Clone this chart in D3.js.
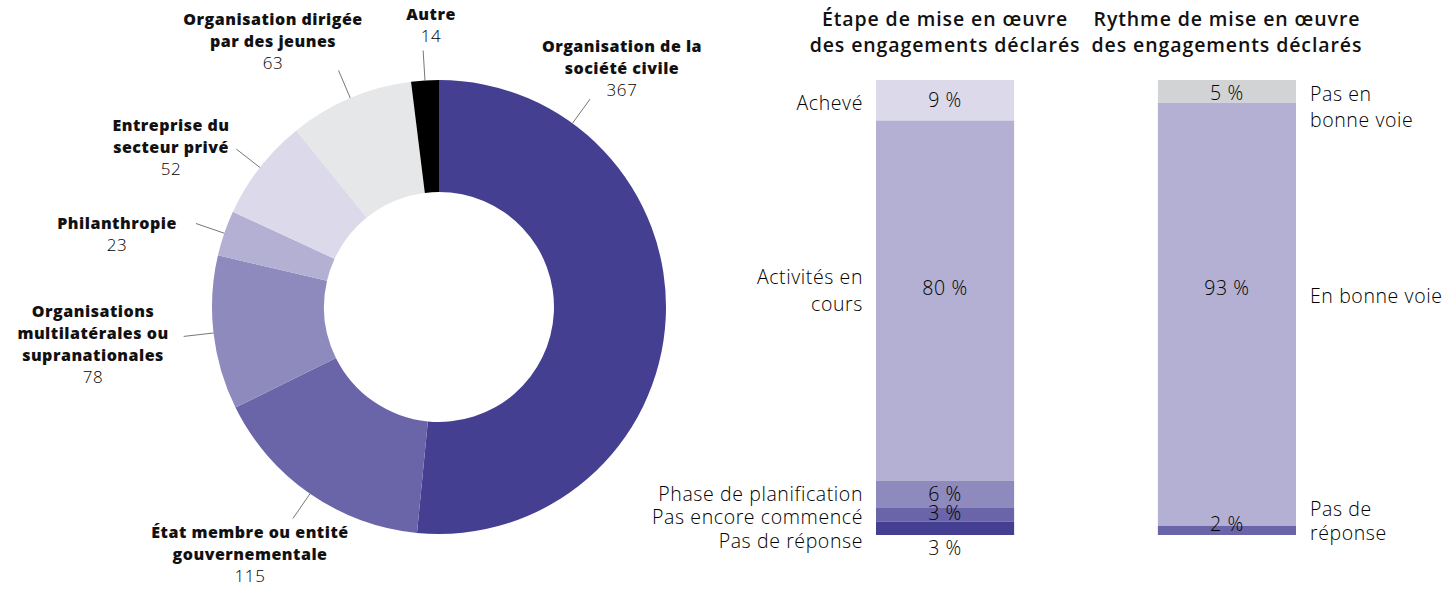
<!DOCTYPE html>
<html>
<head>
<meta charset="utf-8">
<script src="https://cdn.jsdelivr.net/npm/d3@7"></script>
<style>
  body { margin: 0; background: #fff; }
  svg text { font-family: "Open Sans", Lato, sans-serif; fill: #111; }
  .bold { font-weight: 800; letter-spacing: 0.5px; }
  .light { font-weight: 300; letter-spacing: 0.6px; fill: #000; }
</style>
</head>
<body>
<svg id="chart" width="1450" height="591"></svg>
<script>
// donut data
const donutNames = ['Organisation de la société civile', 'État membre ou entité gouvernementale',
  'Organisations multilatérales ou supranationales', 'Philanthropie', 'Entreprise du secteur privé',
  'Organisation dirigée par des jeunes', 'Autre']
const donutValues = [367, 115, 78, 23, 52, 63, 14]
const donutColors = ['#443f90', '#6a64a8', '#8e8abe', '#b3b0d3', '#dcd9ea', '#e6e7e8', '#000000']

// stacked bars (top to bottom)
const etapeCats = ['Achevé', 'Activités en cours', 'Phase de planification', 'Pas encore commencé', 'Pas de réponse']
const etapeValues = [9, 80, 6, 3, 3]
const etapeColors = ['#dcd9ea', '#b3b0d3', '#8e8abe', '#6a64a8', '#443f90']

const rythmeCats = ['Pas en bonne voie', 'En bonne voie', 'Pas de réponse']
const rythmeValues = [5, 93, 2]
const rythmeColors = ['#d2d3d5', '#b3b0d3', '#6a64a8']

const svg = d3.select('#chart')

// ---------- donut ----------
const cx = 439, cy = 307
const outerR = 227, innerR = 115

const pie = d3.pie().sort(null).value(d => d.value)
const arcs = pie(donutNames.map((n, i) => ({name: n, value: donutValues[i], color: donutColors[i]})))
const arc = d3.arc().innerRadius(innerR).outerRadius(outerR)

const donut = svg.append('g').attr('transform', `translate(${cx},${cy})`)
donut.selectAll('path')
  .data(arcs)
  .enter()
  .append('path')
  .attr('d', arc)
  .attr('fill', d => d.data.color)

// label placement: lines of bold text, anchor x, first baseline y, leader angle override (deg)
const donutLabels = [
  {lines: ['Organisation de la', 'société civile'], x: 622, y: 52, angle: 36},
  {lines: ['État membre ou entité', 'gouvernementale'], x: 250, y: 538},
  {lines: ['Organisations', 'multilatérales ou', 'supranationales'], x: 93, y: 317},
  {lines: ['Philanthropie'], x: 117, y: 229},
  {lines: ['Entreprise du', 'secteur privé'], x: 171, y: 131},
  {lines: ['Organisation dirigée', 'par des jeunes'], x: 273, y: 25},
  {lines: ['Autre'], x: 431, y: 20}
]
const lineH = 22

arcs.forEach((a, i) => {
  const lab = donutLabels[i]
  const ang = lab.angle != null ? lab.angle * Math.PI / 180 : (a.startAngle + a.endAngle) / 2
  const p = r => [Math.sin(ang) * r, -Math.cos(ang) * r]
  const p1 = p(outerR), p2 = p(outerR + 30)
  donut.append('line')
    .attr('x1', p1[0]).attr('y1', p1[1])
    .attr('x2', p2[0]).attr('y2', p2[1])
    .attr('stroke', '#777').attr('stroke-width', 1)

  const t = svg.append('text')
    .attr('text-anchor', 'middle')
    .attr('x', lab.x)
    .attr('y', lab.y)
    .style('font-size', '16px')
  lab.lines.forEach((l, j) => {
    t.append('tspan').attr('class', 'bold').attr('x', lab.x).attr('dy', j === 0 ? 0 : lineH).text(l)
  })
  t.append('tspan').attr('class', 'light').attr('x', lab.x).attr('dy', lineH)
    .style('font-size', '17px').text(a.data.value)
})

// ---------- stacked bars ----------
const xBand = d3.scaleBand().domain(['etape', 'rythme']).range([876, 1296]).paddingInner(0.51)
const barTop = 80, barBottom = 535

function stackBar(key, cats, values, colors) {
  const total = d3.sum(values)
  const y = d3.scaleLinear().domain([0, total]).range([barTop, barBottom])
  let acc = 0
  return cats.map((c, i) => {
    const seg = {cat: c, value: values[i], color: colors[i], y0: y(acc), y1: y(acc + values[i]), key: key}
    acc += values[i]
    return seg
  })
}

const etapeSegs = stackBar('etape', etapeCats, etapeValues, etapeColors)
const rythmeSegs = stackBar('rythme', rythmeCats, rythmeValues, rythmeColors)

const bars = svg.append('g')
bars.selectAll('rect')
  .data(etapeSegs.concat(rythmeSegs))
  .enter()
  .append('rect')
  .attr('x', d => xBand(d.key))
  .attr('width', xBand.bandwidth())
  .attr('y', d => d.y0)
  .attr('height', d => d.y1 - d.y0)
  .attr('fill', d => d.color)

// value label baselines and category label baselines
const etapeValY = [107, 295, 501, 520, 555]
const etapeCatY = [[110], [284, 311], [501], [524], [548]]
const rythmeValY = [100, 295, 531]
const rythmeCatY = [[101, 127], [303], [516, 540]]
const etapeCatLines = [['Achevé'], ['Activités en', 'cours'], ['Phase de planification'], ['Pas encore commencé'], ['Pas de réponse']]
const rythmeCatLines = [['Pas en', 'bonne voie'], ['En bonne voie'], ['Pas de', 'réponse']]

const cxE = xBand('etape') + xBand.bandwidth() / 2
const cxR = xBand('rythme') + xBand.bandwidth() / 2
const fs = '19.5px'

etapeSegs.forEach((s, i) => {
  svg.append('text').attr('class', 'light').attr('text-anchor', 'middle')
    .attr('x', cxE).attr('y', etapeValY[i]).style('font-size', fs).text(`${s.value} %`)
  etapeCatLines[i].forEach((l, j) => {
    svg.append('text').attr('class', 'light').attr('text-anchor', 'end')
      .attr('x', xBand('etape') - 13).attr('y', etapeCatY[i][j]).style('font-size', fs).text(l)
  })
})
rythmeSegs.forEach((s, i) => {
  svg.append('text').attr('class', 'light').attr('text-anchor', 'middle')
    .attr('x', cxR).attr('y', rythmeValY[i]).style('font-size', fs).text(`${s.value} %`)
  rythmeCatLines[i].forEach((l, j) => {
    svg.append('text').attr('class', 'light').attr('text-anchor', 'start')
      .attr('x', xBand('rythme') + xBand.bandwidth() + 14).attr('y', rythmeCatY[i][j]).style('font-size', fs).text(l)
  })
})

// titles
const titles = [
  {key: 'etape', lines: ['Étape de mise en œuvre', 'des engagements déclarés']},
  {key: 'rythme', lines: ['Rythme de mise en œuvre', 'des engagements déclarés']}
]
titles.forEach(t => {
  const x = xBand(t.key) + xBand.bandwidth() / 2
  t.lines.forEach((l, j) => {
    svg.append('text').attr('text-anchor', 'middle')
      .style('font-weight', 600).style('letter-spacing', '0.9px')
      .attr('x', x).attr('y', 26 + j * 26).style('font-size', '19.5px').text(l)
  })
})
</script>
</body>
</html>
